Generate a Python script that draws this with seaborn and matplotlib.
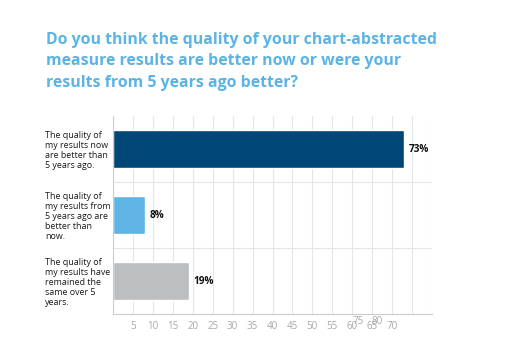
import numpy as np
import pandas as pd
import matplotlib.pyplot as plt
import seaborn as sns

sns.set_style('white')
plt.rcParams['font.family'] = ['Open Sans', 'DejaVu Sans']

categories = ['The quality of\nmy results now\nare better than\n5 years ago.',
              'The quality of\nmy results from\n5 years ago are\nbetter than\nnow.',
              'The quality of\nmy results have\nremained the\nsame over 5\nyears.']
values = [73, 8, 19]
colors = ['#004677', '#5fb4e5', '#bdbec0']
title = ('Do you think the quality of your chart-abstracted\n'
         'measure results are better now or were your\n'
         'results from 5 years ago better?')

df = pd.DataFrame({'answer': categories, 'pct': values})

fig = plt.figure(figsize=(5.05, 3.61), dpi=100)
ax = fig.add_axes([113 / 505, 1 - 314 / 361, 319 / 505, 198 / 361])

sns.barplot(data=df, x='pct', y='answer', hue='answer', palette=colors,
            legend=False, width=0.58, ax=ax, saturation=1)

ax.set_xlim(0, 80)
ax.set_ylim(2.5, -0.5)
ax.set_xlabel('')
ax.set_ylabel('')

ticks = list(range(0, 85, 5))
ax.set_xticks(ticks)
ax.set_xticklabels(['' if t in (0, 75, 80) else str(t) for t in ticks])
ax.tick_params(axis='x', length=0, labelsize=7, labelcolor='#a8a8a8', pad=5)
ax.grid(axis='x', color='#e6e6e6', linewidth=0.8)
ax.set_axisbelow(True)
for yb in (0.5, 1.5):
    ax.axhline(yb, color='#e6e6e6', linewidth=0.8, zorder=0)

# the odd raised 75 / 80 labels
for lab, xp in (('75', 61.5), ('80', 66.3)):
    ax.text(xp, -0.012, lab, transform=ax.get_xaxis_transform(), ha='center',
            va='top', fontsize=7, color='#a8a8a8')

ax.tick_params(axis='y', length=0, labelsize=6.4, pad=49)
for lbl in ax.get_yticklabels():
    lbl.set_horizontalalignment('left')
    lbl.set_multialignment('left')
    lbl.set_linespacing(1.15)
    lbl.set_color('#1a1a1a')

for i, v in enumerate(values):
    ax.text(v + 1.2, i, f'{v}%', va='center', ha='left', fontsize=7.2,
            fontweight='bold', color='#111111')

sns.despine(ax=ax, top=True, right=True)
for s in ('left', 'bottom'):
    ax.spines[s].set_color('#cccccc')
    ax.spines[s].set_linewidth(0.8)

fig.text(46 / 505, 1 - 32 / 361, title, ha='left', va='top', fontsize=11.4,
         fontweight='bold', color='#5ab4e5', linespacing=1.45)

fig.savefig('out.png', dpi=100)
